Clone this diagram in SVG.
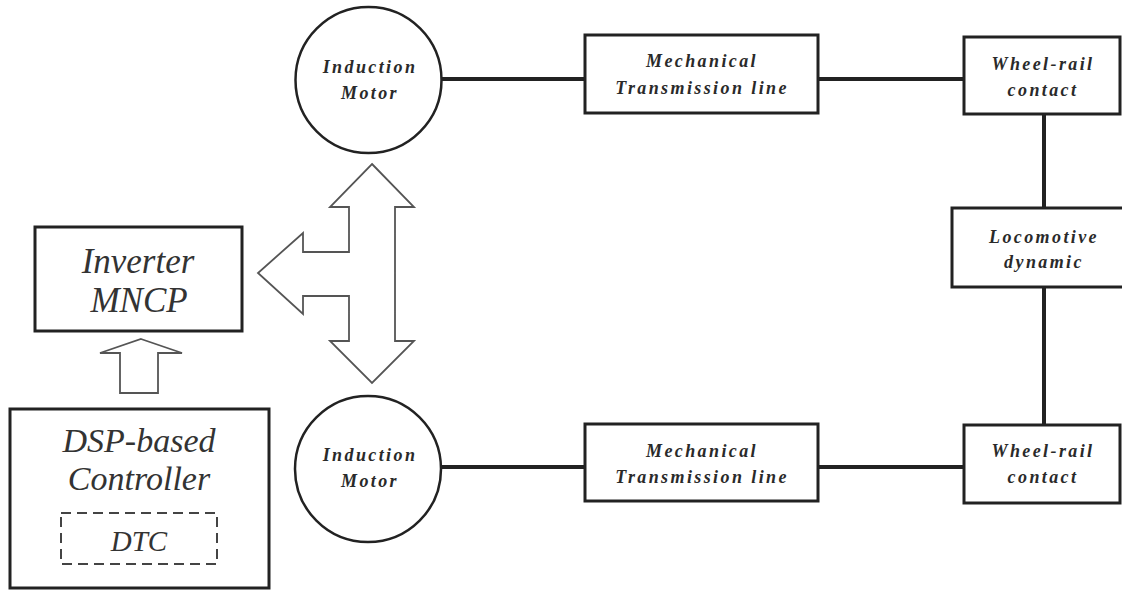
<svg xmlns="http://www.w3.org/2000/svg" width="1122" height="590" viewBox="0 0 1122 590">
<style>
.box{fill:#fff;stroke:#222;stroke-width:3}
.circ{fill:#fff;stroke:#222;stroke-width:2.5}
.conn{stroke:#222;stroke-width:4;fill:none}
.arrow{fill:#fff;stroke:#555;stroke-width:1.8;stroke-linejoin:miter}
.dash{fill:none;stroke:#444;stroke-width:2;stroke-dasharray:10 6}
.big{font-family:"Liberation Serif","DejaVu Serif",serif;font-style:italic;fill:#333;text-anchor:middle}
.sm{font-family:"Liberation Serif","DejaVu Serif",serif;font-style:italic;font-weight:bold;font-size:18px;letter-spacing:2.4px;fill:#2a2a2a;text-anchor:middle}
</style>
<rect width="1122" height="590" fill="#fff"/>
<g id="connectors">
<line class="conn" x1="441" y1="79" x2="585" y2="79"/>
<line class="conn" x1="818" y1="79" x2="964" y2="79"/>
<line class="conn" x1="441" y1="467" x2="585" y2="467"/>
<line class="conn" x1="818" y1="467" x2="964" y2="467"/>
<line class="conn" x1="1044" y1="114" x2="1044" y2="208"/>
<line class="conn" x1="1044" y1="287" x2="1044" y2="425"/>
<polygon id="arrow-t" class="arrow" points="372,164 414,207 395,207 395,341 414,341 372,383 330,341 349,341 349,296 303,296 303,314 258,273 303,233 303,252 349,252 349,207 330,207"/>
<polygon id="arrow-up" class="arrow" points="141,339 182,353 158,353 158,393 120,393 120,353 100,353"/>
</g>
<g id="inverter">
<rect class="box" x="35" y="227" width="207" height="104"/>
<text class="big" x="138" y="273" font-size="35">Inverter</text>
<text class="big" x="139" y="312" font-size="35">MNCP</text>
</g>
<g id="dsp">
<rect class="box" x="10" y="409" width="259" height="179"/>
<text class="big" x="139" y="452" font-size="34">DSP-based</text>
<text class="big" x="139" y="490" font-size="34">Controller</text>
</g>
<g id="dtc">
<rect class="dash" x="61" y="513" width="156" height="51"/>
<text class="big" x="139" y="551" font-size="29">DTC</text>
</g>
<g id="motor-top">
<circle class="circ" cx="368.5" cy="80" r="73"/>
<text class="sm" x="370" y="73">Induction</text>
<text class="sm" x="370" y="99">Motor</text>
</g>
<g id="motor-bottom">
<circle class="circ" cx="368" cy="469" r="73"/>
<text class="sm" x="370" y="461">Induction</text>
<text class="sm" x="370" y="487">Motor</text>
</g>
<g id="mech-top">
<rect class="box" x="585" y="35" width="233" height="78"/>
<text class="sm" x="702" y="67">Mechanical</text>
<text class="sm" x="702" y="94">Transmission line</text>
</g>
<g id="mech-bottom">
<rect class="box" x="585" y="424" width="233" height="77"/>
<text class="sm" x="702" y="457">Mechanical</text>
<text class="sm" x="702" y="483">Transmission line</text>
</g>
<g id="wheel-top">
<rect class="box" x="964" y="37" width="156" height="77"/>
<text class="sm" x="1043" y="70">Wheel-rail</text>
<text class="sm" x="1043" y="96">contact</text>
</g>
<g id="locomotive">
<rect class="box" x="952" y="208" width="182" height="79"/>
<text class="sm" x="1044" y="243">Locomotive</text>
<text class="sm" x="1044" y="268">dynamic</text>
</g>
<g id="wheel-bottom">
<rect class="box" x="964" y="425" width="156" height="78"/>
<text class="sm" x="1043" y="457">Wheel-rail</text>
<text class="sm" x="1043" y="483">contact</text>
</g>
</svg>
